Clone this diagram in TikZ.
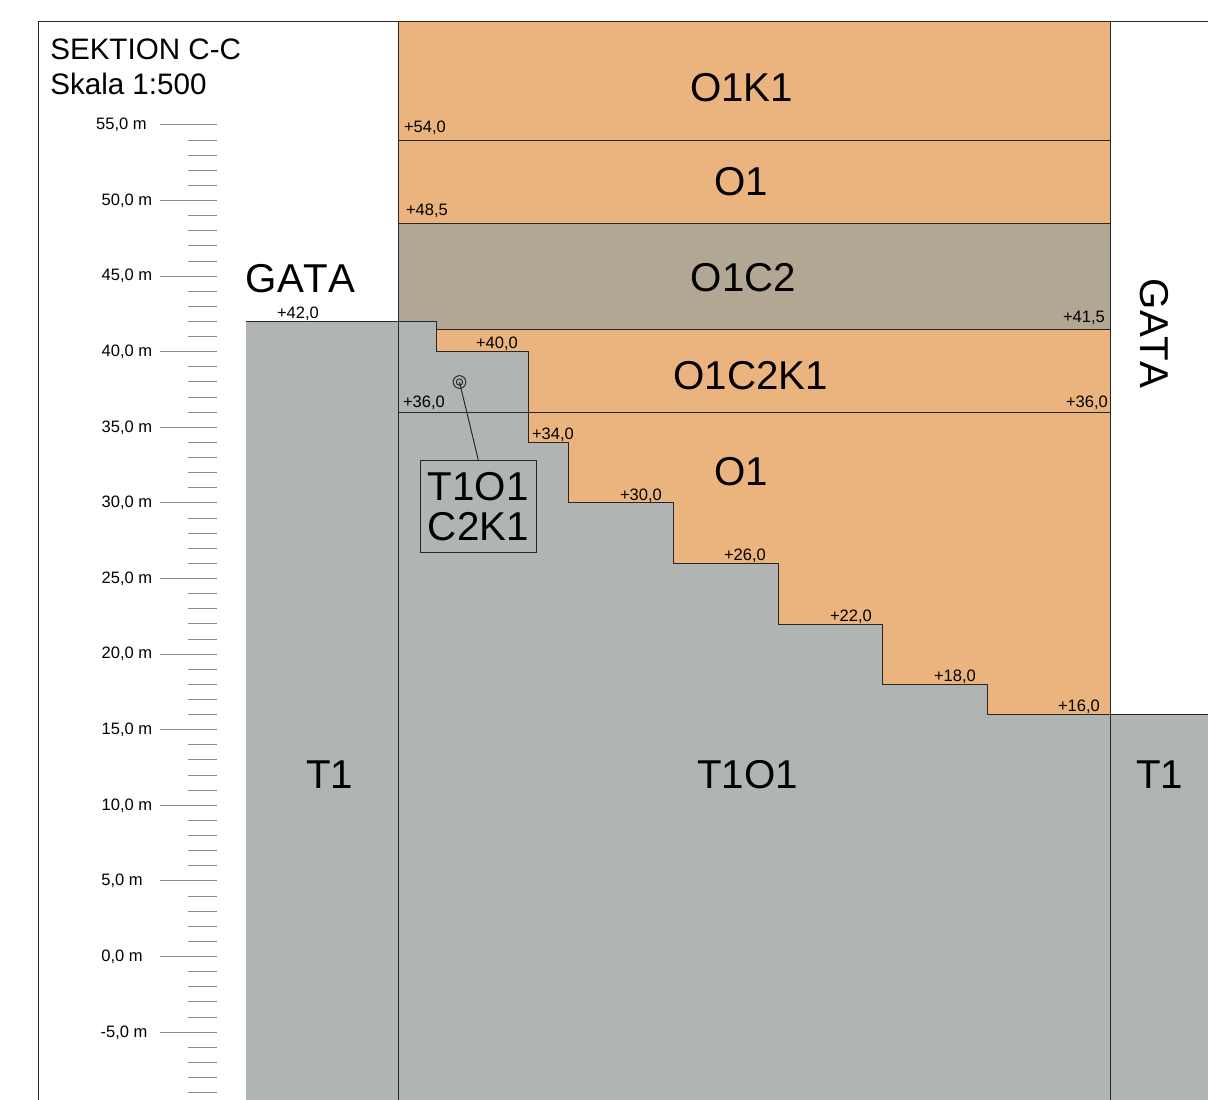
\documentclass[tikz,border=0pt]{standalone}
\usepackage{fontspec}
\setmainfont{Liberation Sans}
\newfontfamily\nokern[Kerning=Off]{Liberation Sans}
\definecolor{orangefill}{HTML}{EBB47E}
\definecolor{beigefill}{HTML}{B2A792}
\definecolor{grayfill}{HTML}{B0B4B3}
\definecolor{tickgray}{HTML}{8A8A8A}
\tikzset{
  big/.style={font=\nokern\fontsize{30.2}{36}\selectfont,inner sep=0pt,anchor=center},
  lvl/.style={font=\fontsize{12.4}{14}\selectfont,inner sep=0pt,anchor=center},
  scalelab/.style={font=\fontsize{12.4}{14}\selectfont,inner sep=0pt,anchor=center},
  titletext/.style={font=\fontsize{22.2}{25.5}\selectfont,inner sep=0pt,anchor=west},
  ln/.style={draw=black!85,line width=0.72pt},
  tick/.style={draw=tickgray,line width=0.7pt},
}
\begin{document}
\begin{tikzpicture}[x=0.75pt,y=-0.75pt]
\useasboundingbox (0,0) rectangle (1208,1100);
\fill[white] (0,0) rectangle (1208,1100);
% fills
\fill[orangefill] (398,21) rectangle (1110,223);
\fill[beigefill] (398,223) rectangle (1110,329);
\fill[orangefill] (436,329) rectangle (1110,714);
\fill[grayfill] (246,321) -- (436,321) -- (436,351) -- (528.5,351) -- (528.5,442) -- (568,442) -- (568,502) -- (673,502) -- (673,563) -- (778,563) -- (778,624) -- (882.7,624) -- (882.7,684) -- (987.7,684) -- (987.7,714) -- (1208,714) -- (1208,1100) -- (246,1100) -- cycle;
% frame and verticals
\draw[ln] (38,1100) -- (38,21) -- (1208,21);
\draw[ln] (398,21) -- (398,1100);
\draw[ln] (1110,21) -- (1110,1100);
% horizontal levels
\draw[ln] (398,140) -- (1110,140);
\draw[ln] (398,223) -- (1110,223);
\draw[ln] (436,329) -- (1110,329);
\draw[ln] (398,412) -- (1110,412);
% terrain profile
\draw[ln] (246,321) -- (436,321) -- (436,351) -- (528.5,351) -- (528.5,442) -- (568,442) -- (568,502) -- (673,502) -- (673,563) -- (778,563) -- (778,624) -- (882.7,624) -- (882.7,684) -- (987.7,684) -- (987.7,714) -- (1208,714);
% scale
\foreach \m in {55,...,-9}{
  \draw[tick] (188,{956.5-15.12*\m}) -- (217,{956.5-15.12*\m});
}
\foreach \m in {55,50,...,-5}{
  \draw[tick] (159.5,{956.5-15.12*\m}) -- (217,{956.5-15.12*\m});
}
\node[scalelab] (s55) at (121.5,125) {55,0 m};
\node[scalelab] (s50) at (127,200.5) {50,0 m};
\node[scalelab] (s45) at (127,276) {45,0 m};
\node[scalelab] (s40) at (127,352) {40,0 m};
\node[scalelab] (s35) at (127,427.5) {35,0 m};
\node[scalelab] (s30) at (127,503) {30,0 m};
\node[scalelab] (s25) at (127,578.5) {25,0 m};
\node[scalelab] (s20) at (127,654) {20,0 m};
\node[scalelab] (s15) at (127,730) {15,0 m};
\node[scalelab] (s10) at (127,805.5) {10,0 m};
\node[scalelab] (s5) at (122,881) {5,0 m};
\node[scalelab] (s0) at (122,957) {0,0 m};
\node[scalelab] (sm5) at (124,1032.5) {-5,0 m};
% title
\node[titletext] (t1) at (50,49.5) {SEKTION C-C};
\node[titletext] (t2) at (50,83.5) {Skala 1:500};
% big labels
\node[big] (o1k1) at (741.5,87.7) {O1K1};
\node[big] (o1a) at (741.5,181.7) {O1};
\node[big] (o1c2) at (743.5,277.7) {O1C2};
\node[big] (o1c2k1) at (750.5,375.7) {O1C2K1};
\node[big] (o1b) at (741.5,471.7) {O1};
\node[big] (gata1) at (300.5,278.7) {GATA};
\node[big,rotate=-90] (gata2) at (1154.5,333.5) {GATA};
\node[big] (t1l) at (329.5,774.7) {T1};
\node[big] (t1o1) at (747.5,774.7) {T1O1};
\node[big] (t1r) at (1159.5,774.7) {T1};
% levels
\node[lvl] (l54) at (425,128) {+54,0};
\node[lvl] (l485) at (427,211) {+48,5};
\node[lvl] (l42) at (298,314) {+42,0};
\node[lvl] (l415) at (1084,318) {+41,5};
\node[lvl] (l40) at (497,344) {+40,0};
\node[lvl] (l36a) at (424,403) {+36,0};
\node[lvl] (l36b) at (1087,403) {+36,0};
\node[lvl] (l34) at (553,435) {+34,0};
\node[lvl] (l30) at (641,496) {+30,0};
\node[lvl] (l26) at (745,556) {+26,0};
\node[lvl] (l22) at (851,617) {+22,0};
\node[lvl] (l18) at (955,677) {+18,0};
\node[lvl] (l16) at (1079,707) {+16,0};
% callout
\node[draw=black!85,line width=0.72pt,fill=grayfill,minimum width=87pt,minimum height=69pt,inner sep=0pt,align=center,font=\nokern\fontsize{30.2}{30.5}\selectfont] (box) at (478.3,506.5) {T1O1\\C2K1};
\node[circle,draw=black!85,line width=0.7pt,minimum size=9.5pt,inner sep=0pt] (target) at (459.5,382) {};
\node[circle,draw=black!85,line width=0.7pt,minimum size=4.8pt,inner sep=0pt] (targetin) at (459.5,382) {};
\draw[ln] (targetin.center) -- (box.north);
\end{tikzpicture}
\end{document}
